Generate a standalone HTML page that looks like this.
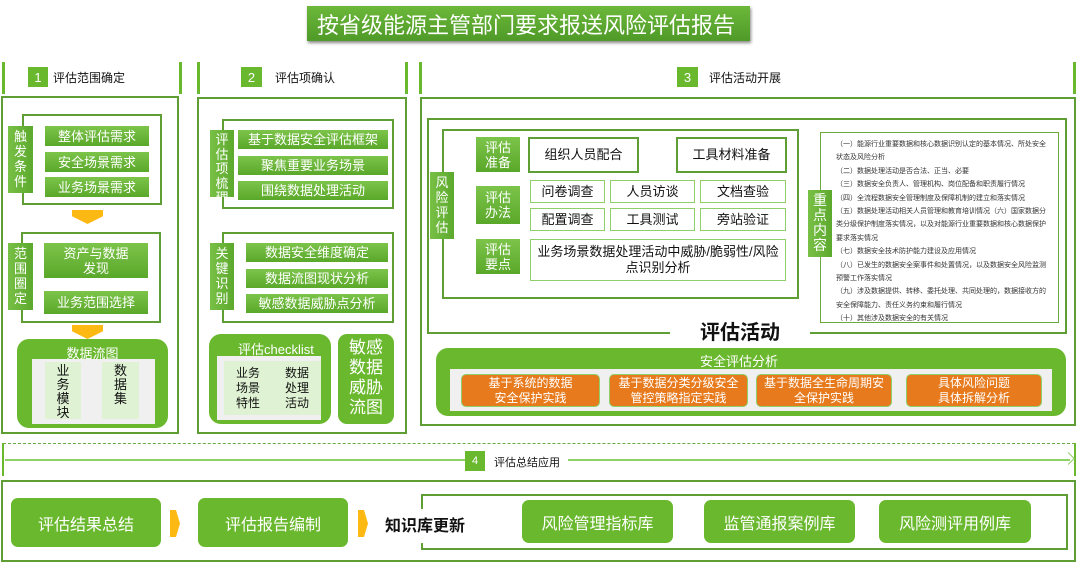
<!DOCTYPE html>
<html><head><meta charset="utf-8"><style>
*{margin:0;padding:0;box-sizing:border-box}
body{width:1080px;height:564px;background:#fff;position:relative;overflow:hidden;font-family:"Liberation Sans","Noto Sans CJK SC",sans-serif;color:#111}
div{position:absolute}
.ol{border:2px solid #5f9e35}
.ol1{border:1.5px solid #6aa840}
.g{background:linear-gradient(#7cc44a,#5aa82a);color:#fff;display:flex;align-items:center;justify-content:center;text-align:center;font-size:13px;line-height:15px}
.tag{background:linear-gradient(90deg,#78c046,#5ca92d);color:#fff;font-size:13px;line-height:15px;text-align:center;overflow:hidden;padding-top:3px}
.tagh{background:linear-gradient(#7cc44a,#5aa82a);color:#fff;font-size:13px;line-height:15px;text-align:center;display:flex;align-items:center;justify-content:center}
.wb{background:#fff;border:1.5px solid #8fcf6a;display:flex;align-items:center;justify-content:center;font-size:13px;text-align:center;line-height:16px}
.vl{width:3px;background:#6ab82e}
.badge{background:#6ab82e;color:#fff;font-size:13px;display:flex;align-items:center;justify-content:center}
.hd{font-size:12px;color:#111}
.chev{width:31px;height:14px;background:#fdb913;clip-path:polygon(0 0,100% 0,100% 45%,50% 100%,0 45%)}
.rg{background:#6ab82e;border-radius:12px}
.or{background:#e67a1c;color:#fff;border:1.5px solid #8fcf6a;border-radius:5px;font-size:12px;line-height:15px;display:flex;align-items:center;justify-content:center;text-align:center}
.bg{background:#6ab82e;border-radius:7px;color:#fff;font-size:16px;display:flex;align-items:center;justify-content:center}
.ych{width:10px;height:27px;background:#fdb913;clip-path:polygon(0 0,60% 0,100% 50%,60% 100%,0 100%)}
</style></head><body>

<!-- title -->
<div style="left:307px;top:6px;width:443px;height:35px;background:linear-gradient(#6cb83a,#4f9a28);box-shadow:1px 2px 3px #888;color:#fff;font-size:22px;display:flex;align-items:center;padding-left:10px">按省级能源主管部门要求报送风险评估报告</div>

<!-- headers -->
<div class="vl" style="left:2px;top:62px;height:32px"></div>
<div class="vl" style="left:179px;top:62px;height:32px"></div>
<div class="badge" style="left:28px;top:67px;width:20px;height:20px">1</div>
<div class="hd" style="left:53px;top:69px">评估范围确定</div>
<div class="vl" style="left:197px;top:62px;height:32px"></div>
<div class="vl" style="left:405px;top:62px;height:32px"></div>
<div class="badge" style="left:241px;top:67px;width:21px;height:20px">2</div>
<div class="hd" style="left:275px;top:69px">评估项确认</div>
<div class="vl" style="left:419px;top:62px;height:32px"></div>
<div class="vl" style="left:1073px;top:62px;height:32px"></div>
<div class="badge" style="left:677px;top:67px;width:21px;height:20px">3</div>
<div class="hd" style="left:709px;top:69px">评估活动开展</div>

<!-- column 1 -->
<div class="ol" style="left:1px;top:96px;width:178px;height:338px"></div>
<div class="ol" style="left:22px;top:114px;width:140px;height:91px"></div>
<div class="tag" style="left:8px;top:126px;width:25px;height:67px">触<br>发<br>条<br>件</div>
<div class="g" style="left:45px;top:126px;width:104px;height:20px">整体评估需求</div>
<div class="g" style="left:45px;top:152px;width:104px;height:20px">安全场景需求</div>
<div class="g" style="left:45px;top:177px;width:104px;height:20px">业务场景需求</div>
<div class="chev" style="left:72px;top:210px"></div>
<div class="ol" style="left:21px;top:232px;width:140px;height:91px"></div>
<div class="tag" style="left:8px;top:243px;width:25px;height:67px">范<br>围<br>圈<br>定</div>
<div class="g" style="left:44px;top:243px;width:104px;height:35px">资产与数据<br>发现</div>
<div class="g" style="left:44px;top:291px;width:104px;height:23px">业务范围选择</div>
<div class="chev" style="left:72px;top:325px"></div>
<div class="rg" style="left:17px;top:339px;width:151px;height:89px"></div>
<div style="left:17px;top:343px;width:151px;text-align:center;color:#fff;font-size:13px">数据流图</div>
<div style="left:32px;top:359px;width:123px;height:65px;background:#f0f0f0"></div>
<div style="left:45px;top:362px;width:36px;height:57px;background:#dff3d4;font-size:13px;line-height:14px;text-align:center;padding-top:2px">业<br>务<br>模<br>块</div>
<div style="left:102px;top:362px;width:37px;height:57px;background:#dff3d4;font-size:13px;line-height:14px;text-align:center;padding-top:2px">数<br>据<br>集</div>

<!-- column 2 -->
<div class="ol" style="left:197px;top:97px;width:210px;height:337px"></div>
<div class="ol" style="left:222px;top:119px;width:172px;height:90px"></div>
<div class="tag" style="left:210px;top:130px;width:24px;height:67px;line-height:14.5px">评<br>估<br>项<br>梳<br>理</div>
<div class="g" style="left:238px;top:130px;width:150px;height:19px">基于数据安全评估框架</div>
<div class="g" style="left:238px;top:156px;width:150px;height:19px">聚焦重要业务场景</div>
<div class="g" style="left:238px;top:181px;width:150px;height:19px">围绕数据处理活动</div>
<div class="ol" style="left:222px;top:232px;width:172px;height:91px"></div>
<div class="tag" style="left:210px;top:243px;width:24px;height:67px">关<br>键<br>识<br>别</div>
<div class="g" style="left:246px;top:243px;width:142px;height:19px">数据安全维度确定</div>
<div class="g" style="left:246px;top:269px;width:142px;height:19px">数据流图现状分析</div>
<div class="g" style="left:246px;top:294px;width:142px;height:19px">敏感数据威胁点分析</div>
<div class="rg" style="left:209px;top:334px;width:122px;height:90px"></div>
<div style="left:238px;top:339px;color:#fff;font-size:13px">评估checklist</div>
<div style="left:217px;top:356px;width:104px;height:64px;background:#f0f0f0"></div>
<div style="left:224px;top:361px;width:97px;height:54px;background:#dff3d4"></div>
<div style="left:236px;top:366px;font-size:12px;line-height:15px">业务<br>场景<br>特性</div>
<div style="left:285px;top:366px;font-size:12px;line-height:15px">数据<br>处理<br>活动</div>
<div class="rg" style="left:338px;top:334px;width:56px;height:90px;border-radius:9px;color:#fff;font-size:17px;line-height:20px;text-align:center;padding-top:4px">敏感<br>数据<br>威胁<br>流图</div>

<!-- column 3 -->
<div class="ol" style="left:420px;top:97px;width:656px;height:329px"></div>
<div class="ol" style="left:427px;top:118px;width:640px;height:216px"></div>
<div style="left:670px;top:320px;width:140px;height:30px;background:#fff;font-size:20px;font-weight:bold;text-align:center;line-height:26px">评估活动</div>
<div class="ol" style="left:442px;top:129px;width:357px;height:170px"></div>
<div class="tag" style="left:430px;top:172px;width:24px;height:67px">风<br>险<br>评<br>估</div>
<div class="tagh" style="left:476px;top:137px;width:44px;height:35px">评估<br>准备</div>
<div class="wb" style="left:528px;top:137px;width:111px;height:36px;border:2px solid #5f9e35">组织人员配合</div>
<div class="wb" style="left:676px;top:137px;width:111px;height:36px;border:2px solid #5f9e35">工具材料准备</div>
<div class="tagh" style="left:476px;top:186px;width:44px;height:38px">评估<br>办法</div>
<div class="wb" style="left:530px;top:180px;width:75px;height:23px">问卷调查</div>
<div class="wb" style="left:610px;top:180px;width:85px;height:23px">人员访谈</div>
<div class="wb" style="left:700px;top:180px;width:86px;height:23px">文档查验</div>
<div class="wb" style="left:530px;top:208px;width:75px;height:23px">配置调查</div>
<div class="wb" style="left:610px;top:208px;width:85px;height:23px">工具测试</div>
<div class="wb" style="left:700px;top:208px;width:86px;height:23px">旁站验证</div>
<div class="tagh" style="left:476px;top:239px;width:44px;height:35px">评估<br>要点</div>
<div class="wb" style="left:530px;top:239px;width:256px;height:42px">业务场景数据处理活动中威胁/脆弱性/风险<br>点识别分析</div>

<div class="ol1" style="left:820px;top:132px;width:239px;height:191px"></div>
<div style="left:836px;top:138px;width:218px;font-size:7px;line-height:13.4px;color:#333">（一）能源行业重要数据和核心数据识别认定的基本情况、所处安全<br>状态及风险分析<br>（二）数据处理活动是否合法、正当、必要<br>（三）数据安全负责人、管理机构、岗位配备和职责履行情况<br>（四）全流程数据安全管理制度及保障机制的建立和落实情况<br>（五）数据处理活动相关人员管理和教育培训情况（六）国家数据分<br>类分级保护制度落实情况，以及对能源行业重要数据和核心数据保护<br>要求落实情况<br>（七）数据安全技术防护能力建设及应用情况<br>（八）已发生的数据安全案事件和处置情况，以及数据安全风险监测<br>预警工作落实情况<br>（九）涉及数据提供、转移、委托处理、共同处理的，数据接收方的<br>安全保障能力、责任义务约束和履行情况<br>（十）其他涉及数据安全的有关情况</div>
<div class="tag" style="left:808px;top:190px;width:24px;height:67px;font-size:14px">重<br>点<br>内<br>容</div>

<div class="rg" style="left:436px;top:348px;width:630px;height:68px"></div>
<div style="left:700px;top:351px;color:#fff;font-size:13px">安全评估分析</div>
<div style="left:450px;top:369px;width:602px;height:42px;background:#f0f0f0"></div>
<div class="or" style="left:461px;top:374px;width:139px;height:33px">基于系统的数据<br>安全保护实践</div>
<div class="or" style="left:609px;top:374px;width:139px;height:33px">基于数据分类分级安全<br>管控策略指定实践</div>
<div class="or" style="left:756px;top:374px;width:136px;height:33px">基于数据全生命周期安<br>全保护实践</div>
<div class="or" style="left:906px;top:374px;width:136px;height:33px">具体风险问题<br>具体拆解分析</div>

<!-- section 4 -->
<div style="left:3px;top:443px;width:1072px;border-top:1.5px dashed #6aa840"></div>
<div style="left:2px;top:443px;width:2px;height:33px;background:#6ab82e"></div>
<div style="left:1074px;top:443px;width:2px;height:33px;background:#6ab82e"></div>
<div style="left:5px;top:459px;width:460px;height:2px;background:#8ed066"></div>
<div style="left:568px;top:459px;width:502px;height:2px;background:#8ed066"></div>
<div style="left:1064px;top:454px;width:9px;height:9px;border-top:1.5px solid #8ed066;border-right:1.5px solid #8ed066;transform:rotate(45deg)"></div>
<div class="badge" style="left:465px;top:451px;width:20px;height:20px;font-size:11px">4</div>
<div style="left:494px;top:454px;font-size:11px">评估总结应用</div>

<div class="ol" style="left:1px;top:480px;width:1075px;height:82px"></div>
<div class="bg" style="left:11px;top:498px;width:150px;height:49px">评估结果总结</div>
<div class="ych" style="left:170px;top:510px"></div>
<div class="bg" style="left:198px;top:498px;width:150px;height:49px">评估报告编制</div>
<div class="ych" style="left:358px;top:510px"></div>
<div class="ol" style="left:421px;top:494px;width:647px;height:56px"></div>
<div style="left:419px;top:509px;width:5px;height:34px;background:#fff"></div>
<div style="left:385px;top:512px;font-size:16px;font-weight:bold">知识库更新</div>
<div class="bg" style="left:522px;top:500px;width:151px;height:43px">风险管理指标库</div>
<div class="bg" style="left:704px;top:500px;width:151px;height:43px">监管通报案例库</div>
<div class="bg" style="left:879px;top:500px;width:152px;height:43px">风险测评用例库</div>
</body></html>
